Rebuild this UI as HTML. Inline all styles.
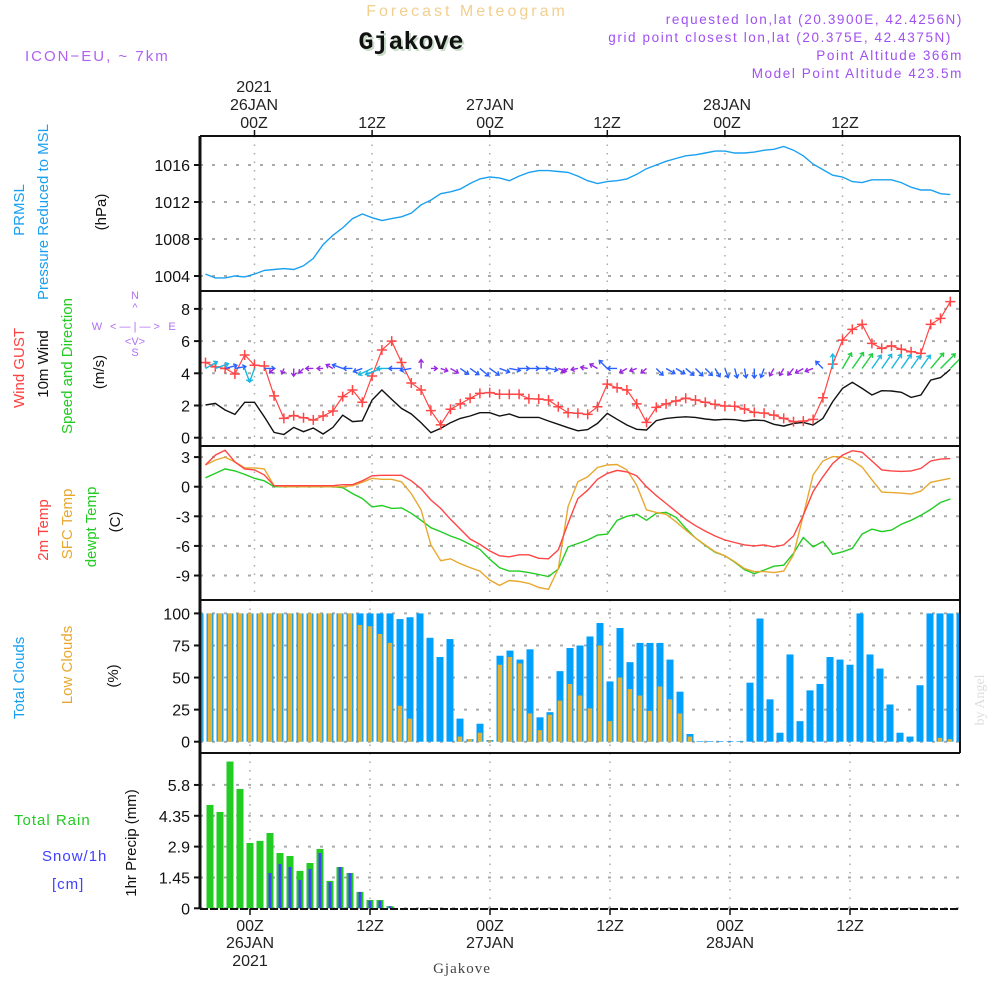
<!DOCTYPE html>
<html><head><meta charset="utf-8"><style>
body{margin:0;background:#fff;width:1000px;height:1000px;overflow:hidden}
svg{display:block}
text{font-family:"Liberation Sans",sans-serif}
</style></head><body>
<svg id="c" width="1000" height="1000" viewBox="0 0 1000 1000" xmlns="http://www.w3.org/2000/svg">
<g>
<text x="467" y="16" text-anchor="middle" font-size="16" fill="#f3cf8e" letter-spacing="3">Forecast Meteogram</text>
<text x="413" y="51" text-anchor="middle" font-size="25" font-weight="bold" fill="#c8dcc8" style="font-family:'Liberation Mono',monospace">Gjakove</text>
<text x="411" y="49" text-anchor="middle" font-size="25" font-weight="bold" fill="#111" style="font-family:'Liberation Mono',monospace">Gjakove</text>
<text x="25" y="61" font-size="15" fill="#b060f0" letter-spacing="2">ICON−EU, ~ 7km</text>
<text x="963" y="24" text-anchor="end" font-size="13.5" fill="#a050f0" letter-spacing="1.6">requested lon,lat (20.3900E, 42.4256N)</text>
<text x="952" y="42" text-anchor="end" font-size="13.5" fill="#a050f0" letter-spacing="1.6">grid point closest lon,lat (20.375E, 42.4375N)</text>
<text x="963" y="60" text-anchor="end" font-size="13.5" fill="#a050f0" letter-spacing="1.6">Point Altitude 366m</text>
<text x="963" y="78" text-anchor="end" font-size="13.5" fill="#a050f0" letter-spacing="1.6">Model Point Altitude 423.5m</text>
</g>
<g id="top-axis" font-size="16" fill="#222" text-anchor="middle">
<text x="254" y="92">2021</text><text x="254" y="110">26JAN</text><text x="254" y="128">00Z</text>
<text x="372" y="128">12Z</text>
<text x="490" y="110">27JAN</text><text x="490" y="128">00Z</text>
<text x="607" y="128">12Z</text>
<text x="727" y="110">28JAN</text><text x="727" y="128">00Z</text>
<text x="845" y="128">12Z</text>
</g>
<g font-size="16" fill="#222" text-anchor="middle">
<text x="250" y="931">00Z</text><text x="250" y="948">26JAN</text><text x="250" y="966">2021</text>
<text x="370" y="931">12Z</text>
<text x="490" y="931">00Z</text><text x="490" y="948">27JAN</text>
<text x="610" y="931">12Z</text>
<text x="730" y="931">00Z</text><text x="730" y="948">28JAN</text>
<text x="850" y="931">12Z</text>
<text x="462" y="973" font-size="15" fill="#444" style="font-family:'Liberation Serif',serif" letter-spacing="1">Gjakove</text>
</g>
<g font-size="15">
<text transform="translate(24,210) rotate(-90)" text-anchor="middle" fill="#1aa0f0">PRMSL</text>
<text transform="translate(48,212) rotate(-90)" text-anchor="middle" fill="#1aa0f0">Pressure Reduced to MSL</text>
<text transform="translate(106,212) rotate(-90)" text-anchor="middle" fill="#111">(hPa)</text>
<text transform="translate(24,368) rotate(-90)" text-anchor="middle" fill="#ff4040">Wind GUST</text>
<text transform="translate(48,364) rotate(-90)" text-anchor="middle" fill="#111">10m Wind</text>
<text transform="translate(72,366) rotate(-90)" text-anchor="middle" fill="#22cc22">Speed and Direction</text>
<text transform="translate(104,372) rotate(-90)" text-anchor="middle" fill="#111">(m/s)</text>
<text transform="translate(48,530) rotate(-90)" text-anchor="middle" fill="#ff4040">2m Temp</text>
<text transform="translate(72,524) rotate(-90)" text-anchor="middle" fill="#e8a830">SFC Temp</text>
<text transform="translate(96,527) rotate(-90)" text-anchor="middle" fill="#22cc22">dewpt Temp</text>
<text transform="translate(120,522) rotate(-90)" text-anchor="middle" fill="#111">(C)</text>
<text transform="translate(24,678) rotate(-90)" text-anchor="middle" fill="#1aa0f0">Total Clouds</text>
<text transform="translate(72,665) rotate(-90)" text-anchor="middle" fill="#e8a830">Low Clouds</text>
<text transform="translate(118,676) rotate(-90)" text-anchor="middle" fill="#111">(%)</text>
<text x="14" y="825" fill="#22cc22" letter-spacing="1">Total  Rain</text>
<text x="42" y="861" fill="#4040ff" letter-spacing="1">Snow/1h</text>
<text x="52" y="889" fill="#4040ff" letter-spacing="1">[cm]</text>
<text transform="translate(136,843) rotate(-90)" text-anchor="middle" fill="#111">1hr Precip (mm)</text>
<text transform="translate(984,700) rotate(-90)" text-anchor="middle" fill="#ddd" font-size="14" style="font-family:'Liberation Serif',serif">by Angel</text>
</g>
<g fill="#b070f0" font-size="11" text-anchor="middle">
<text x="135" y="299">N</text><text x="135" y="311">^</text><text x="135" y="330">&lt; — | — &gt;</text>
<text x="97" y="330">W</text><text x="172" y="330">E</text><text x="135" y="345">&lt;V&gt;</text><text x="135" y="356">S</text>
</g>
<g id="plots"></g>
</svg>
<script>
// ---- data (hour index -5..71) ----
const hours = [];for(let h=-5;h<=71;h++)hours.push(h);
const pressure=[1004.2,1003.8,1003.8,1004.0,1003.9,1004.2,1004.6,1004.7,1004.8,1004.7,1005.1,1005.9,1007.4,1008.4,1009.2,1010.2,1010.7,1010.3,1010.0,1010.2,1010.4,1010.8,1011.7,1012.2,1012.9,1013.1,1013.4,1014.0,1014.5,1014.7,1014.6,1014.3,1014.8,1015.2,1015.4,1015.4,1015.3,1015.2,1014.8,1014.3,1014.0,1014.2,1014.3,1014.5,1015.0,1015.6,1016.0,1016.4,1016.7,1017.0,1017.1,1017.3,1017.5,1017.5,1017.3,1017.3,1017.4,1017.6,1017.7,1018.0,1017.6,1017.0,1016.1,1015.5,1014.9,1014.7,1014.2,1014.1,1014.4,1014.4,1014.4,1014.1,1013.6,1013.3,1013.3,1012.9,1012.8];
const gust=[4.67,4.4,4.3,3.96,5.14,4.5,4.45,2.6,1.2,1.37,1.24,1.1,1.35,1.66,2.55,2.96,2.2,3.83,5.45,6.0,4.67,3.4,2.96,1.68,0.8,1.77,2.1,2.45,2.75,2.8,2.7,2.7,2.7,2.42,2.4,2.34,1.92,1.55,1.52,1.45,1.92,3.33,3.1,2.96,2.1,0.95,1.88,2.1,2.28,2.45,2.34,2.2,2.07,1.97,1.95,1.78,1.57,1.53,1.4,1.2,1.0,1.03,1.14,2.48,4.57,6.06,6.73,7.04,5.86,5.55,5.7,5.49,5.34,5.24,7.04,7.41,8.45];
const wind10=[2.03,2.13,1.72,1.45,2.2,2.2,1.3,0.33,0.2,0.64,0.37,0.6,0.23,0.64,1.4,1.0,1.05,2.34,2.96,2.38,1.82,1.47,0.93,0.31,0.58,0.93,1.2,1.35,1.55,1.55,1.35,1.47,1.26,1.26,1.26,1.04,0.83,0.62,0.43,0.5,0.89,1.51,1.14,0.79,0.52,0.48,1.06,1.2,1.26,1.3,1.26,1.16,1.1,1.14,1.12,1.04,1.1,1.06,0.83,0.72,0.89,0.95,0.79,1.2,2.24,3.06,3.44,3.06,2.65,2.92,2.9,2.82,2.5,2.65,3.58,3.73,4.24];
const windDir=[60,70,75,80,160,200,90,225,200,180,225,270,270,300,290,270,250,245,250,270,270,260,0,90,110,120,125,125,130,125,110,100,90,90,90,100,110,240,260,280,300,315,270,240,250,230,135,120,120,130,135,135,150,160,165,170,180,200,210,210,220,240,250,315,0,30,35,35,35,35,35,35,35,35,40,45,45];
const temp2m=[2.2,3.2,3.7,2.5,1.8,1.7,1.2,0.1,0.1,0.1,0.1,0.1,0.1,0.1,0.2,0.2,0.6,1.1,1.15,1.15,1.15,0.6,-0.2,-1.35,-2.2,-3.3,-4.3,-5.3,-5.85,-6.5,-7.0,-7.1,-6.9,-6.9,-7.25,-7.3,-6.4,-3.7,-1.2,-0.35,0.75,1.35,1.65,1.5,1.1,0,-0.9,-1.7,-2.5,-3.3,-3.95,-4.5,-5.0,-5.4,-5.65,-5.9,-6.0,-5.9,-6.1,-5.9,-5.0,-2.9,-0.5,1.0,2.35,3.2,3.65,3.5,2.6,1.7,1.6,1.55,1.6,1.85,2.6,2.8,2.85];
const tempSfc=[2.2,2.7,3.0,2.5,1.9,1.9,1.8,0.1,0,0,0,0,0,0,0,0.1,0.45,0.85,0.75,0.75,0.5,-0.7,-2.35,-5.9,-7.5,-7.3,-7.8,-8.2,-8.55,-9.45,-10.0,-9.5,-9.6,-9.8,-10.2,-10.4,-8.3,-2.0,0.5,1.0,1.95,2.2,2.25,1.7,0.15,-2.35,-2.6,-2.8,-3.55,-4.4,-5.2,-5.9,-6.6,-7.0,-7.6,-8.3,-8.6,-8.6,-8.7,-8.55,-6.9,-2.9,1.2,2.6,3.05,3.0,2.65,2.0,0.7,-0.55,-0.6,-0.65,-0.75,-0.45,0.45,0.65,0.85];
const dewpt=[0.9,1.35,1.8,1.6,1.25,0.85,0.6,0,0,0,0,0,0,0,-0.1,-0.7,-1.2,-2.05,-1.9,-2.2,-2.15,-2.7,-3.4,-4.15,-4.55,-5.0,-5.35,-5.85,-6.35,-7.35,-8.2,-8.55,-8.55,-8.7,-8.9,-9.1,-8.35,-6.1,-5.75,-5.4,-4.9,-4.8,-3.4,-3.0,-2.8,-3.4,-2.7,-2.6,-3.1,-4.2,-5.2,-5.95,-6.65,-7.0,-7.65,-8.4,-8.8,-8.45,-8.05,-7.95,-6.75,-5.15,-6.1,-5.55,-6.85,-6.6,-6.25,-4.8,-4.3,-4.55,-4.4,-3.8,-3.4,-2.9,-2.3,-1.6,-1.25];
const totalClouds=[100,100,100,100,100,100,100,100,100,100,100,100,100,100,100,100,100,100,100,100,95.6,97,100,81,66,80,18,2,14,1.3,67,71,64,72,19,23,55,73,75,82,92.5,47,88.6,62,77,77,77,64,39,6,0.5,0.5,0.5,0.5,0.5,46,96,33,7,68,16,40,45,66,64,60,100,68,57,29,7,4,44,100,100,100,100];
const lowClouds=[100,100,100,100,100,100,100,100,100,100,100,100,100,100,100,100,91,90,84,77,28,18,0,0,0,0,4,2,7,1,60,66,61,22,9,21,32,45,36,26,75,16,50,41,36,24,43,33,22,4,0,0,0,0,0,0,0,0,0,0,0,0,0,0,0,0,0,0,0,0,0,0,0,0,3,2,0];
const rain=[0,4.86,4.53,6.9,5.61,3.07,3.17,3.54,2.6,2.46,1.76,2.13,2.79,1.29,1.94,1.66,0.77,0.39,0.39,0.1];
const snow=[0,0,0,0,0,0,0.02,1.66,2.08,1.94,1.33,1.85,2.6,1.24,1.94,1.66,0.77,0.36,0.36,0.1];
const pressTicks=[1004,1008,1012,1016];
const windTicks=[0,2,4,6,8];
const tempTicks=[-9,-6,-3,0,3];
const cloudTicks=[0,25,50,75,100];
const precipTicks=[0,1.45,2.9,4.35,5.8];
const precipTickLabels=["0","1.45","2.9","4.35","5.8"];

// ---- scales ----
const L=200,R=960;
const xl=h=>254.5+9.8*h;      // line panels
const xb=h=>250+10*h;         // bar panels
const P={p:[136,291],w:[291,446],t:[446,600],c:[600,753],r:[753,909]};
const yP=v=>165+(1016-v)*9.25;
const yW=v=>437.7-16.1*v;
const yT=v=>486.7-9.87*v;
const yC=v=>741.7-1.283*v;
const yR=v=>908.3-21.27*v;

const NS='http://www.w3.org/2000/svg';
const root=document.getElementById('plots');
function mk(tag,attrs,parent){const e=document.createElementNS(NS,tag);for(const k in attrs)e.setAttribute(k,attrs[k]);(parent||root).appendChild(e);return e;}

function panel(name,yr,ys,ticks,labels,xf){
  const g=mk('g',{});
  
  
  const defs=mk('clipPath',{id:'clip-'+name},g);
  mk('rect',{x:L,y:yr[0],width:R-L,height:yr[1]-yr[0]},defs);
  for(let h=0;h<=60;h+=12){
    const vl=mk('line',{x1:xf(h),x2:xf(h),y1:yr[0],y2:yr[1],stroke:'#aaa','stroke-dasharray':'1.5 7','stroke-width':1.5},g);
    
    
  }
  ticks.forEach((t,i)=>{
    const y=ys(t);
    const gl=mk('line',{x1:L,x2:R,y1:y,y2:y,stroke:'#aaa','stroke-dasharray':'3 9','stroke-width':2},g);
    
    
    mk('line',{x1:L-6,x2:L,y1:y,y2:y,stroke:'#111','stroke-width':2},g);
    const tx=mk('text',{x:L-10,y:y+6,'text-anchor':'end','font-size':16,fill:'#111'},g);
    tx.textContent=labels?labels[i]:String(t);
    
    
  });
  const body=mk('g',{'clip-path':'url(#clip-'+name+')'},g);
  return [g,body];
}
function frame(g,yr,right){
  mk('line',{x1:L,x2:R,y1:yr[0],y2:yr[0],stroke:'#111','stroke-width':2},g);
  mk('line',{x1:L,x2:L,y1:yr[0],y2:yr[1],stroke:'#111','stroke-width':3},g);
  if(right)mk('line',{x1:R,x2:R,y1:yr[0],y2:yr[1],stroke:'#111','stroke-width':2},g);
}
function line(body,arr,ys,color,name,w){
  const d=arr.map((v,i)=>(i?'L':'M')+xl(hours[i]).toFixed(1)+','+ys(v).toFixed(1)).join('');
  const p=mk('path',{d,fill:'none',stroke:color,'stroke-width':w||1.4},body);
  
  
  return p;
}

for(let h=0;h<=60;h+=12){mk('line',{x1:xl(h),x2:xl(h),y1:130,y2:136,stroke:'#111','stroke-width':1.5});}

let [g1,b1]=panel('pressure',P.p,yP,pressTicks,null,xl);
line(b1,pressure,yP,'#1aa0f0','pressure-line');
frame(g1,P.p,true);

let [g2,b2]=panel('wind',P.w,yW,windTicks,null,xl);
line(b2,wind10,yW,'#111','wind-10m-line',1.4);
line(b2,gust,yW,'#ff4545','wind-gust-line',1.2);
gust.forEach((v,i)=>{
  const x=xl(hours[i]),y=yW(v);
  const m=mk('path',{d:`M${x-5},${y}H${x+5}M${x},${y-5}V${y+5}`,stroke:'#ff4545','stroke-width':1.5},b2);
  
  
});
windDir.forEach((dir,i)=>{
  const sp=wind10[i];
  const col=sp<1?'#9a28e0':sp<2?'#2a60ff':sp<3?'#18b8e0':'#20d040';
  const len=5+4.2*sp;
  const x0=xl(hours[i]),y0=yW(4.3);
  const a=dir*Math.PI/180;
  const x1=x0+len*Math.sin(a),y1=y0-len*Math.cos(a);
  const ah=4,bx=Math.sin(a),by=-Math.cos(a);
  const lx=x1-ah*(bx*0.8-by*0.6),ly=y1-ah*(by*0.8+bx*0.6);
  const rx=x1-ah*(bx*0.8+by*0.6),ry=y1-ah*(by*0.8-bx*0.6);
  const ar=mk('path',{d:`M${x0},${y0}L${x1},${y1}M${lx},${ly}L${x1},${y1}L${rx},${ry}`,stroke:col,'stroke-width':1.4,fill:'none'},b2);
  
  
});
frame(g2,P.w,true);

let [g3,b3]=panel('temperature',P.t,yT,tempTicks,null,xl);
line(b3,dewpt,yT,'#22cc22','dewpoint-line');
line(b3,tempSfc,yT,'#e8a830','sfc-temp-line');
line(b3,temp2m,yT,'#ff4545','temp-2m-line');
frame(g3,P.t,true);

let [g4,b4]=panel('clouds',P.c,yC,cloudTicks,null,xb);
totalClouds.forEach((v,i)=>{
  const x=xb(hours[i]);
  const r=mk('rect',{x:x-3.5,y:yC(v),width:7,height:yC(0)-yC(v),fill:'#00a0ff'},b4);
  
  
  const lv=lowClouds[i];
  const o=mk('rect',{x:x-2.2,y:yC(lv),width:4.4,height:yC(0)-yC(lv),fill:'#e8b030'},b4);
  
  
});
frame(g4,P.c,true);

let [g5,b5]=panel('precip',P.r,yR,precipTicks,precipTickLabels,xb);
rain.forEach((v,i)=>{
  const x=xb(hours[i]);
  const r=mk('rect',{x:x-3.5,y:yR(v),width:7,height:yR(0)-yR(v),fill:'#22cc22'},b5);
  
  
  const s=snow[i];
  const b=mk('rect',{x:x-1.5,y:yR(s),width:3,height:yR(0)-yR(s),fill:'#4040ff'},b5);
  
  
});
frame(g5,P.r,false);
mk('line',{x1:L,x2:R,y1:909,y2:909,stroke:'#111','stroke-width':2,'stroke-dasharray':'8 2'});
for(let h=0;h<=60;h+=12){mk('line',{x1:xb(h),x2:xb(h),y1:909,y2:915,stroke:'#111','stroke-width':1.5});}
</script>
</body></html>
